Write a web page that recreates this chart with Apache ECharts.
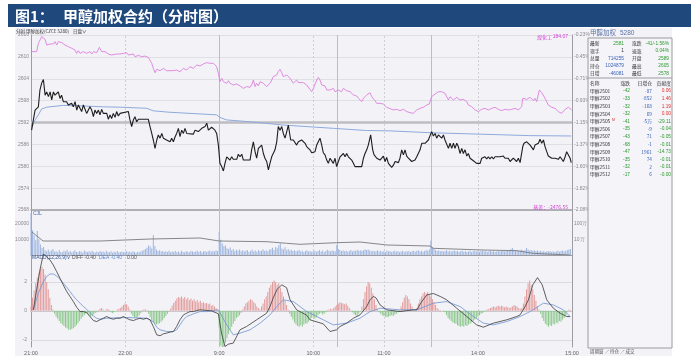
<!DOCTYPE html>
<html><head><meta charset="utf-8">
<script src="https://cdn.jsdelivr.net/npm/echarts@6/dist/echarts.min.js"></script>
<style>
html,body{margin:0;padding:0;background:#fff;}
#bg{position:absolute;left:15px;top:28px;width:657px;height:328px;background:#F2F2F7;}
#c{position:absolute;left:0;top:0;width:691px;height:356px;}
</style></head><body>
<div id="bg"></div><div id="c"></div>
<script>
// ---------- axis labels ----------
const timeTicks=[0,60,120,180,225,285,345];
const timeLabels=['21:00','22:00','9:00','10:00','11:00','14:00','15:00'];
const dashedTimes=[60,180,225,285];
const sessionBreaks=[120,195,255];
const pctLabels=['-2.08%','-1.82%','-1.60%','-1.37%','-1.15%','-0.93%','-0.71%','-0.45%','-0.23%'];
const volTicks=[10000,20000];
const volLeftLabels=['10000','20000'];
const volRightLabels=['10万','100万'];
const macdTicks=[-2,0,2];
const macdLabels=['-2','0','2'];

// ---------- main panel: price (minute, price) ----------
const pricePts=[[0.4,2589.9],[1.5,2592.7],[2.6,2595.4],[3.6,2595.0],[4.7,2596.3],[5.7,2600.9],[6.8,2602.8],[7.9,2603.8],[8.5,2603.8],[9,2599.5],[10,2600.4],[11.1,2599.1],[12.2,2600.4],[13.2,2598.2],[14.3,2600.4],[15.3,2599.5],[16.4,2599.1],[17.4,2600.4],[18.5,2598.6],[19.5,2599.5],[20.6,2597.7],[22.7,2597.7],[23.8,2596.8],[25.9,2597.3],[27,2596.3],[28.1,2597.7],[29.2,2595.4],[30.2,2596.8],[32.3,2595.0],[33.4,2596.8],[34.4,2596.3],[35.5,2594.5],[36.6,2594.1],[37.6,2596.3],[38.7,2595.4],[39.8,2593.6],[40.8,2595.4],[41.9,2594.5],[43,2595.4],[44,2594.1],[45.1,2595.6],[46.1,2594.5],[47.2,2595.0],[48.3,2594.5],[49.3,2592.9],[50.4,2594.1],[51.4,2593.1],[52.5,2594.5],[53.6,2593.4],[54.6,2595.0],[55.7,2593.8],[56.8,2594.5],[57.8,2595.0],[62.1,2595.0],[63.1,2592.7],[64.2,2590.9],[65.3,2592.7],[66.3,2593.6],[67.4,2592.2],[68.5,2592.9],[74.8,2592.9],[75.9,2590.9],[77,2589.0],[78,2587.2],[79.1,2584.9],[80.2,2587.2],[81.2,2588.6],[82.3,2587.7],[83.4,2589.0],[84.4,2587.7],[85.5,2588.1],[86.5,2587.2],[87.6,2587.7],[88.7,2586.7],[89.7,2587.7],[90.8,2586.7],[91.9,2588.1],[92.9,2589.0],[94,2590.4],[95,2588.1],[96.1,2589.9],[97.2,2589.0],[98.2,2590.4],[99.3,2589.0],[100.4,2588.8],[103.5,2588.8],[104.6,2589.9],[105.7,2590.4],[106.7,2589.5],[107.8,2589.0],[108.9,2590.4],[109.9,2589.9],[111,2590.9],[112.1,2591.8],[113.1,2589.9],[114.2,2589.5],[115.2,2590.7],[116.3,2590.4],[117.3,2589.9],[118.4,2589.0],[119.5,2585.8],[120.5,2580.8],[121.6,2579.9],[122.7,2578.7],[123.7,2580.8],[124.8,2582.6],[125.9,2582.6],[126.9,2581.7],[128,2582.6],[129,2581.9],[131.2,2581.9],[132.2,2583.3],[133.3,2582.6],[134.4,2583.3],[135.4,2581.7],[139.7,2581.7],[140.7,2584.5],[141.8,2586.7],[142.9,2584.0],[143.9,2582.2],[145,2584.9],[146.1,2585.4],[147.1,2585.8],[148.2,2583.5],[149.2,2582.2],[150.3,2581.3],[151.4,2579.0],[152.4,2580.8],[153.5,2582.6],[154.5,2582.2],[155.6,2584.5],[156.7,2586.7],[157.7,2590.9],[158.8,2589.9],[159.9,2590.9],[160.9,2589.0],[162,2587.7],[163.1,2589.5],[164.1,2591.3],[164.8,2591.8],[165.6,2587.2],[167.3,2587.2],[169.4,2585.8],[170.5,2586.7],[171.6,2586.3],[172.6,2587.2],[173.7,2587.7],[174.8,2586.3],[175.8,2585.4],[176.9,2585.8],[177.9,2584.5],[179,2583.7],[180.1,2583.7],[181.1,2584.0],[182.2,2585.8],[183.3,2586.3],[184.3,2587.7],[185.4,2585.8],[186.4,2583.7],[187.5,2583.1],[188.6,2581.7],[189.6,2580.8],[190.7,2582.2],[191.8,2582.6],[192.8,2580.8],[193.9,2582.2],[194.9,2579.9],[196,2581.3],[197.1,2582.6],[198.1,2583.1],[199.2,2583.5],[200.3,2582.6],[201.3,2583.5],[202.4,2582.6],[203.5,2583.1],[204.5,2581.7],[205.6,2580.8],[206.6,2579.9],[210.9,2579.9],[212,2582.2],[213,2583.5],[214.1,2584.5],[215.1,2585.8],[216.6,2588.6],[217.9,2584.5],[218.8,2583.1],[219.4,2583.5],[220.5,2582.2],[221.5,2582.6],[222.6,2581.7],[223.6,2582.2],[224.7,2582.8],[225.8,2581.3],[226.8,2582.4],[227.9,2580.8],[230,2579.7],[231.1,2580.3],[232.2,2581.3],[233.2,2580.8],[234.3,2581.0],[235.3,2582.2],[236.4,2584.5],[237.5,2583.1],[238.5,2584.5],[239.6,2582.8],[240.7,2582.2],[241.7,2582.6],[242.8,2581.3],[243.8,2580.8],[244.9,2581.7],[246,2582.6],[247,2583.1],[248.1,2584.5],[249.2,2586.3],[250.2,2586.7],[251.3,2586.3],[252.3,2585.8],[253.4,2587.2],[254.5,2586.7],[255.5,2589.5],[256.6,2588.3],[257.7,2589.0],[258.7,2587.7],[259.8,2588.6],[260.9,2588.1],[261.9,2587.7],[263,2588.6],[264,2587.2],[265.1,2586.7],[266.2,2584.9],[267.2,2586.3],[268.3,2584.9],[269.4,2586.3],[270.4,2584.9],[271.5,2586.3],[272.5,2585.4],[273.6,2583.5],[274.7,2584.9],[275.7,2583.5],[276.8,2584.5],[277.9,2582.8],[278.9,2583.5],[280,2582.2],[281,2582.6],[282.1,2581.5],[283.2,2581.7],[284.2,2580.8],[286.4,2580.8],[287.4,2582.2],[288.5,2582.2],[289.5,2582.6],[290.6,2582.0],[291.7,2582.6],[292.7,2582.0],[293.8,2582.6],[294.9,2582.0],[295.9,2582.6],[297,2582.3],[299.1,2582.6],[301.2,2582.8],[302.3,2582.2],[303.4,2581.7],[304.4,2582.2],[305.5,2581.3],[306.6,2580.8],[307.6,2582.2],[308.7,2582.6],[309.7,2581.3],[310.8,2582.2],[311.9,2581.0],[312.9,2580.8],[313.6,2585.4],[314.4,2586.3],[316.1,2586.7],[317.2,2587.2],[318.3,2585.8],[319.3,2586.3],[320.4,2584.5],[321.4,2585.8],[322.5,2586.3],[323.6,2586.3],[324.6,2587.4],[325.7,2586.3],[326.8,2587.2],[327.8,2585.4],[328.9,2584.0],[329.9,2582.8],[331,2582.6],[332.1,2582.2],[333.1,2582.6],[334.2,2582.2],[335.3,2582.6],[336.3,2581.9],[337.4,2582.6],[338.4,2582.2],[339.5,2581.3],[340.6,2582.6],[341.6,2584.0],[342.7,2584.5],[343.8,2582.2],[344.5,2581]];

const avgPts=[[0.4,2590.5],[2.6,2592.7],[4.7,2594.1],[6.8,2595.7],[10,2596.2],[20.6,2596.7],[35.5,2596.5],[46.1,2596.3],[56.8,2596.2],[73.8,2595.9],[78,2595.2],[88.7,2594.8],[114.2,2594.2],[118.4,2594.1],[120.5,2593.4],[124.8,2592.7],[139.7,2592.2],[160.9,2591.3],[192.8,2590.4],[214.1,2589.8],[229,2589.7],[254.5,2589.2],[286.4,2588.8],[318.3,2588.4],[344.5,2588.3]];

// 煤化工 overlay, % change
const coalPct=[[0.4,-0.414],[3.6,-0.414],[4.7,-0.327],[6.8,-0.257],[9,-0.285],[10,-0.345],[12.1,-0.334],[14.2,-0.334],[15.3,-0.310],[16.4,-0.345],[17.4,-0.310],[19.6,-0.320],[21.7,-0.345],[23.8,-0.362],[26,-0.379],[28.1,-0.397],[29.1,-0.432],[30.2,-0.404],[31.3,-0.432],[33.4,-0.414],[35.5,-0.432],[37.6,-0.414],[38.7,-0.439],[39.8,-0.414],[41.9,-0.425],[43.6,-0.369],[45.1,-0.414],[47.2,-0.414],[49.3,-0.439],[51.4,-0.449],[54.6,-0.439],[56.8,-0.439],[58.9,-0.432],[61,-0.425],[62.1,-0.449],[63.1,-0.46],[65.3,-0.439],[66.3,-0.467],[68.5,-0.453],[70.6,-0.467],[72.7,-0.46],[74.8,-0.474],[77,-0.536],[78,-0.589],[79.1,-0.634],[80.2,-0.599],[82.3,-0.613],[84.4,-0.589],[86.5,-0.613],[90.8,-0.613],[92.9,-0.606],[95,-0.624],[97.2,-0.589],[99.3,-0.606],[101.4,-0.571],[103.5,-0.589],[105.7,-0.554],[107.8,-0.564],[109.9,-0.543],[112,-0.529],[114.2,-0.536],[116.3,-0.536],[118.4,-0.571],[119.5,-0.641],[120.5,-0.728],[121.6,-0.693],[122.7,-0.728],[123.7,-0.711],[124.8,-0.745],[125.9,-0.718],[126.9,-0.745],[128,-0.738],[129,-0.763],[131.2,-0.752],[133.3,-0.773],[135.4,-0.798],[137.5,-0.780],[139.7,-0.787],[140.7,-0.763],[141.8,-0.711],[142.9,-0.780],[143.9,-0.745],[145,-0.773],[146.1,-0.728],[147.1,-0.711],[148.2,-0.745],[149.2,-0.763],[150.3,-0.780],[151.4,-0.763],[152.4,-0.745],[153.5,-0.711],[154.5,-0.676],[155.6,-0.676],[156.7,-0.658],[157.7,-0.623],[158.8,-0.599],[159.9,-0.634],[160.9,-0.676],[162,-0.693],[163.1,-0.658],[164.1,-0.648],[165.2,-0.693],[166.2,-0.711],[167.3,-0.745],[168.4,-0.728],[169.4,-0.711],[170.5,-0.738],[171.6,-0.745],[173.7,-0.738],[174.8,-0.752],[175.8,-0.763],[176.9,-0.780],[177.9,-0.808],[179,-0.833],[180.1,-0.798],[181.1,-0.780],[182.2,-0.711],[183.3,-0.683],[184.3,-0.711],[185.4,-0.763],[186.4,-0.780],[187.5,-0.773],[188.6,-0.815],[189.6,-0.833],[190.7,-0.815],[191.8,-0.833],[192.8,-0.798],[193.9,-0.833],[194.9,-0.822],[196,-0.815],[197.1,-0.808],[198.1,-0.833],[199.2,-0.798],[200.3,-0.815],[201.3,-0.822],[202.4,-0.815],[203.5,-0.833],[204.5,-0.850],[205.6,-0.867],[206.6,-0.885],[207.7,-0.878],[208.8,-0.902],[209.8,-0.920],[210.9,-0.937],[212,-0.902],[213,-0.885],[214.1,-0.867],[215.1,-0.850],[216.2,-0.843],[217.3,-0.885],[218.3,-0.902],[219.4,-0.927],[220.5,-0.955],[221.5,-0.937],[222.6,-0.955],[223.6,-0.948],[224.7,-0.962],[225.8,-0.972],[226.8,-0.996],[229,-1.010],[231.1,-1.024],[233.2,-1.017],[235.3,-1.031],[237.5,-1.017],[239.6,-1.041],[241.7,-1.052],[243.8,-1.059],[246,-1.024],[247,-1.041],[248.1,-1.007],[250.2,-0.996],[252.3,-0.972],[254,-0.962],[255.5,-0.885],[257.7,-0.857],[259.8,-0.833],[261.9,-0.833],[264,-0.850],[266.2,-0.920],[267.2,-0.885],[269.4,-0.920],[271.5,-0.892],[273.6,-0.920],[275.7,-0.913],[277.9,-0.937],[278.9,-0.972],[281,-0.989],[283.2,-1.024],[285.3,-1.041],[287.4,-1.017],[289.5,-1.007],[291.7,-1.024],[293.8,-1.007],[295.9,-0.996],[298,-1.017],[300.2,-1.031],[302.3,-1.017],[304.4,-1.024],[306.6,-1.017],[308.7,-1.007],[310.8,-1.024],[312.9,-0.989],[313.6,-0.902],[316.1,-0.913],[318.3,-0.892],[320.4,-0.927],[321.4,-0.902],[322.5,-0.937],[324.2,-0.815],[325.7,-0.843],[327.8,-0.902],[329.9,-0.972],[332.1,-0.996],[334.2,-1.007],[336.3,-1.041],[337.4,-1.024],[338.4,-1.059],[340.6,-1.017],[342.7,-0.996],[344.8,-1.024]];

// ---------- volume per minute ----------
const volume=[26900,16000,12800,9500,15500,10200,6800,4500,5200,3000,2400,3600,2200,2900,3800,
2100,2600,1800,3300,2000,1700,2800,2300,3400,1900,2500,1600,2200,3100,2000,
1800,2600,2100,1500,2900,2200,1900,2400,1700,2700,2000,1500,2300,1800,2600,
1900,2200,1600,2800,2000,1700,2400,1500,2100,1800,2500,1600,1900,2300,1700,
2000,2600,1800,2200,1600,2400,1900,1500,2100,1700,2300,2700,3200,3800,4600,
6200,5400,4200,12900,5800,3600,2600,3000,2200,2500,1900,2400,2000,2800,1700,
2200,1900,2500,1800,2300,1600,2700,2000,1800,2400,2100,1700,2600,2200,1900,
2300,2800,2000,2500,1800,2200,2600,1900,2400,2900,2100,2700,2300,3000,2500,
14800,9800,7400,5600,6200,4300,3700,4800,3100,3900,2600,3400,2800,3600,2400,
3000,2200,2700,3300,2000,2600,3500,2300,2900,2100,3200,2500,2800,3700,2600,
3000,2400,3400,3900,4600,3300,5200,4400,6300,7500,4200,3600,5000,3100,3800,
2900,3400,2600,3100,2400,2800,3300,2200,2700,2000,2500,3000,2300,2600,2100,
2400,2800,2100,2600,3200,2300,2900,2000,2500,3400,2700,2200,3000,2600,2400,
6400,3800,3200,2600,3000,2400,2800,2100,2600,3200,2300,2900,2500,3400,2700,
3100,2600,3000,3500,3200,3600,2900,2400,2800,2200,2600,3100,2300,2700,2100,
2500,2000,2900,2300,2600,1900,2400,2800,2100,2500,1800,2300,2700,2000,2400,
2200,2600,1900,2400,2800,2100,2500,3000,2300,2700,2100,2600,3200,2800,3500,
9200,5200,3800,3200,2600,3000,2400,2800,2200,2600,3000,2300,2700,2100,2500,
2900,2200,2600,2000,2400,2800,2100,2500,1900,2300,2700,2000,2400,2800,2200,
2600,2100,2500,2900,2200,2600,2000,2400,2800,2100,2500,1900,2300,2700,2200,
2500,2900,2300,2700,3200,2600,3800,4500,3400,2800,3200,2600,3000,3500,2800,
3200,4500,3600,2900,3300,2700,3100,2500,2900,2300,2700,2100,2500,2000,2400,
2200,2600,2000,2400,1900,2300,2700,2100,2500,2900,2300,2800,3200,3600,3800];

// open interest (minute, lots)
const openInterest=[[0.6,1070000],[7.7,1052000],[44,1052000],[76,1056000],[107.8,1058000],[120,1052000],[150.5,1050600],[163,1047400],[171.6,1045400],[195,1048600],[209.8,1050000],[227,1044000],[254.5,1042000],[256.4,1037400],[288.3,1034000],[310,1032600],[320,1027400],[333,1025400],[343.8,1024000]];

// ---------- MACD ----------
const macdHist=[0.3,0.9,1.4,1.9,2.3,2.6,2.9,3.05,2.9,2.5,2.0,1.5,0.9,0.4,0.1,
-0.2,-0.4,-0.55,-0.7,-0.85,-0.95,-1.05,-1.15,-1.2,-1.3,-1.3,-1.25,-1.2,-1.1,-1.0,
-0.85,-0.7,-0.55,-0.4,-0.3,-0.2,-0.15,-0.3,-0.4,-0.35,-0.25,-0.15,-0.1,0.05,0.15,
0.2,0.1,-0.05,0.1,0.15,0.05,-0.1,-0.15,-0.1,0.0,0.1,0.15,0.2,0.3,0.4,
0.5,0.45,0.3,0.1,-0.2,-0.35,-0.45,-0.5,-0.4,-0.3,-0.15,0.05,0.1,0.1,0.05,
-0.2,-0.45,-0.65,-0.8,-0.9,-0.95,-0.9,-0.85,-0.75,-0.65,-0.5,-0.35,-0.2,-0.05,0.15,
0.35,0.55,0.7,0.85,0.95,0.9,1.0,0.85,0.95,0.8,0.9,0.75,0.85,0.7,0.8,
0.65,0.75,0.6,0.7,0.55,0.6,0.5,0.55,0.45,0.5,0.35,0.4,0.3,0.2,0.05,
-1.2,-2.4,-2.7,-2.5,-2.2,-1.9,-1.6,-1.3,-1.1,-0.9,-0.7,-0.5,-0.4,-0.3,-0.15,
0.1,0.3,0.5,0.6,0.7,0.8,0.75,0.6,0.5,0.3,0.2,0.1,0.3,0.5,0.8,
1.0,1.3,1.6,1.8,2.0,2.1,2.0,1.8,1.9,1.6,1.3,1.0,0.7,0.4,0.1,
-0.2,-0.4,-0.6,-0.8,-0.95,-1.05,-1.1,-1.0,-1.1,-0.95,-0.85,-0.9,-0.75,-0.6,-0.5,
-0.4,-0.55,-0.45,-0.3,-0.2,-0.15,-0.25,-0.2,-0.1,0.05,0.1,0.15,0.1,0.2,0.3,
0.4,0.5,0.6,0.55,0.5,0.45,0.5,0.35,0.2,0.05,-0.1,-0.25,-0.3,-0.35,-0.2,
-0.05,0.3,0.8,1.3,1.7,2.0,1.9,1.6,1.2,0.8,0.4,0.1,-0.1,-0.2,-0.3,
-0.35,-0.4,-0.45,-0.4,-0.35,-0.3,-0.35,-0.25,-0.2,-0.1,0.05,0.3,0.6,0.9,1.1,
1.0,0.8,0.5,0.3,0.1,0.05,0.2,0.5,0.8,1.0,1.2,1.3,1.2,1.3,1.1,
1.0,0.8,0.6,0.4,0.2,0.1,0.05,0.0,-0.05,-0.1,-0.3,-0.5,-0.6,-0.7,-0.8,
-0.85,-0.9,-1.0,-1.05,-1.1,-1.05,-1.1,-1.0,-1.05,-0.95,-0.9,-0.8,-0.7,-0.6,-0.5,
-0.4,-0.3,-0.2,-0.15,-0.05,0.05,0.1,0.15,0.2,0.25,0.3,0.25,0.3,0.35,0.3,
0.35,0.3,0.25,0.3,0.25,0.2,0.25,0.3,0.4,0.35,0.3,0.2,0.15,0.2,0.5,
1.0,1.5,1.9,2.1,1.8,1.5,1.1,0.7,0.3,0.1,-0.2,-0.5,-0.7,-0.9,-1.0,
-1.1,-1.0,-1.05,-0.9,-0.95,-0.8,-0.85,-0.7,-0.75,-0.6,-0.5,-0.3,-0.1,0.1,0.05];

const diffPts=[[1.5,0.07],[3.6,1.45],[5.7,2.83],[7.9,3.93],[10,3.75],[12.1,3.52],[14.2,3.17],[16.4,2.71],[18.5,2.25],[20.6,1.79],[22.8,1.33],[24.9,0.99],[27,0.64],[29.1,0.25],[31.3,-0.05],[33.4,-0.05],[35.5,-0.12],[37.6,-0.39],[39.8,-0.67],[41.9,-0.74],[44,-0.62],[46.1,-0.51],[48.3,-0.39],[50.4,-0.51],[52.5,-0.58],[54.6,-0.51],[56.8,-0.51],[58.9,-0.39],[61,-0.51],[63.1,-0.62],[65.3,-0.67],[67.4,-0.58],[69.5,-0.51],[71.6,-0.58],[73.8,-0.51],[75.9,-0.62],[78,-1.08],[80.2,-1.66],[82.3,-1.72],[84.4,-1.59],[86.5,-1.54],[88.7,-1.47],[90.8,-1.43],[92.9,-1.08],[95,-0.62],[97.2,-0.28],[99.3,-0.16],[101.4,-0.05],[103.5,-0.05],[105.7,0.02],[107.8,0.07],[115,0.0],[119.5,-0.2],[121.6,-1.6],[123.7,-2.46],[126,-2.3],[129,-2.23],[133.3,-1.31],[137.5,-1.08],[143.9,-0.62],[150.3,-0.16],[152.4,0.3],[154.5,0.9],[157,1.5],[160,1.8],[163,1.6],[165.2,0.76],[169.4,0.07],[175.8,-0.3],[177.9,-0.62],[186.4,-0.9],[190.7,-1.43],[194.9,-1.31],[197.1,-1.08],[201.3,-0.85],[205.6,-0.51],[209.8,-0.28],[214.1,0.3],[216.2,0.76],[218.3,1.0],[220,0.9],[222.6,0.41],[226.8,0.07],[235.3,-0.05],[243.8,0.07],[246,0.07],[249.2,0.64],[252.4,1.1],[256.6,1.2],[260.9,1.0],[265.1,0.76],[271.5,0.18],[277.9,-0.39],[284.2,-0.97],[288.5,-1.13],[294.9,-0.85],[303.4,-0.62],[309.8,-0.39],[311.9,-0.28],[315.1,0.3],[317.2,0.76],[320,1.8],[323,2.3],[326,1.8],[328.9,0.76],[333.1,0.18],[337.4,-0.16],[341.6,-0.39],[343.8,-0.4]];

const deaPts=[[1.5,0.07],[4.7,1.22],[7.9,2.02],[10,2.37],[12.1,2.55],[14.2,2.55],[16.4,2.41],[18.5,2.18],[20.6,1.91],[22.8,1.63],[24.9,1.33],[27,1.03],[29.1,0.76],[31.3,0.53],[33.4,0.30],[35.5,0.11],[37.6,-0.12],[39.8,-0.35],[41.9,-0.51],[44,-0.58],[48.3,-0.51],[61,-0.46],[73.8,-0.51],[78,-0.74],[80.2,-1.13],[82.3,-1.31],[86.5,-1.43],[90.8,-1.43],[92.9,-1.31],[95,-0.97],[97.2,-0.62],[99.3,-0.39],[103.5,-0.21],[107.8,-0.05],[112,-0.05],[119.5,0.07],[124.8,-0.97],[129,-1.66],[133.3,-1.54],[139.7,-1.31],[146.1,-0.85],[152.4,-0.28],[156.7,0.3],[160.9,0.76],[167.3,0.64],[175.8,-0.05],[186.4,-0.62],[192.8,-0.97],[201.3,-0.85],[209.8,-0.51],[216.2,-0.05],[222.6,0.18],[235.3,0.07],[246,0.07],[256.6,0.53],[265.1,0.64],[273.6,0.3],[282.1,-0.39],[288.5,-0.85],[294.9,-0.97],[303.4,-0.74],[311.9,-0.39],[318.3,-0.05],[326.8,0.53],[333.1,0.41],[339.5,0.07],[343.8,-0.4]];

// ---------- info panel ----------
const panelTitle=['甲醇加权','5280'];
const quoteRows=[['最新','2581','涨跌','-41/-1.56%'],['现手','1','速涨','0.04%'],['总量','714255','开盘','2589'],['持仓','1024879','最高','2605'],['日增','-46081','最低','2578']];
const quoteColors=[['#2E9A2E','#2E9A2E'],['#333','#2E9A2E'],['#3A62B5','#2E9A2E'],['#3A62B5','#2E9A2E'],['#3A62B5','#2E9A2E']];
const tableHead=['名称','涨跌','日增仓','贡献度'];
const contracts=['甲醇2501','甲醇2502','甲醇2503','甲醇2504','甲醇2505','甲醇2506','甲醇2507','甲醇2508','甲醇2509','甲醇2510','甲醇2511','甲醇2512'];
const contractChg=['-42','-33','-32','-32','-41','-35','-43','-68','-47','-35','-32','-17'];
const contractOi=['-87','-852','-168','69','-5万','-9','71','-1','1961','74','2','6'];
const contractContrib=['0.06','1.46','1.19','0.00','-29.11','-0.04','-0.05','-0.01','-14.73','-0.01','-0.01','-0.00'];

// ---------- build ----------
const chart=echarts.init(document.getElementById('c'),null,{renderer:'canvas'});
const FONT='"Liberation Sans","DejaVu Sans",sans-serif';
const CJK='"Noto Sans CJK SC",sans-serif';
const vLines=[...dashedTimes.map(t=>({xAxis:t,lineStyle:{type:[2,2],color:'#C5C5CC',width:0.8}})),
  ...sessionBreaks.map(t=>({xAxis:t,lineStyle:{type:'solid',color:'#BDBDC4',width:1}}))];
const xBase=(gi,showLabel)=>({type:'value',gridIndex:gi,min:0,max:345,interval:15,
  axisLine:{show:true,lineStyle:{color:'#9C9CA2',width:gi===0?1.5:1}},axisTick:{show:false},splitLine:{show:false},
  axisLabel:{show:showLabel,fontSize:5.5,color:'#666',fontFamily:FONT,margin:3,
    formatter:v=>{const i=timeTicks.indexOf(v);return i>=0?timeLabels[i]:'';}}});
const axisTxt={fontSize:5,color:'#8A8A90',fontFamily:FONT};

const graphic=[];
graphic.push({type:'rect',shape:{x:8,y:4,width:683,height:23},style:{fill:'#1F497D'},z:100});
graphic.push({type:'text',x:15,y:16,style:{text:'图1：',fill:'#fff',font:'bold 15px '+CJK,verticalAlign:'middle'},z:101});
graphic.push({type:'text',x:63,y:16,style:{text:'甲醇加权合约（分时图）',fill:'#fff',font:'bold 15px '+CJK,verticalAlign:'middle'},z:101});
graphic.push({type:'text',x:16,y:31,style:{text:'分时 甲醇加权(CZCE 5280)    日盘∨',fill:'#333',font:'4.5px '+CJK,verticalAlign:'middle'},z:101});
graphic.push({type:'text',x:537,y:37,style:{text:'煤化工',fill:'#D63FD6',font:'5px '+CJK,verticalAlign:'middle'},z:101});
graphic.push({type:'text',x:568,y:37,style:{text:'184.07',fill:'#D63FD6',font:'5px '+FONT,align:'right',verticalAlign:'middle'},z:101});
graphic.push({type:'text',x:568,y:207,style:{text:'基差：-2476.55',fill:'#D63FD6',font:'5px '+CJK,align:'right',verticalAlign:'middle'},z:101});
graphic.push({type:'text',x:33,y:213.5,style:{text:'CJL',fill:'#4A6FB5',font:'5px '+FONT,verticalAlign:'middle'},z:101});
graphic.push({type:'text',x:32,y:258,style:{text:'MACD(12,26,9)∨',fill:'#3A5A9A',font:'5px '+FONT,verticalAlign:'middle'},z:101});
graphic.push({type:'text',x:72,y:258,style:{text:'DIFF -0.40',fill:'#555',font:'5px '+FONT,verticalAlign:'middle'},z:101});
graphic.push({type:'text',x:99,y:258,style:{text:'DEA -0.40',fill:'#5B8BD0',font:'5px '+FONT,verticalAlign:'middle'},z:101});
graphic.push({type:'text',x:127,y:258,style:{text:'0.00',fill:'#555',font:'5px '+FONT,verticalAlign:'middle'},z:101});
// info panel
graphic.push({type:'rect',shape:{x:588,y:38,width:84,height:310},style:{fill:'#F5F5F9',stroke:'#9A9AA0',lineWidth:1},z:99});
graphic.push({type:'line',shape:{x1:588,y1:78,x2:672,y2:78},style:{stroke:'#9A9AA0',lineWidth:1},z:100});
graphic.push({type:'text',x:590,y:33,style:{text:panelTitle[0],fill:'#5A74A8',font:'6.5px '+CJK,verticalAlign:'middle'},z:101});
graphic.push({type:'text',x:620,y:33,style:{text:panelTitle[1],fill:'#5A74A8',font:'6.5px '+FONT,verticalAlign:'middle'},z:101});
quoteRows.forEach((r,i)=>{const y=43.3+i*7.5;
  graphic.push({type:'text',x:590,y,style:{text:r[0],fill:'#333',font:'4.8px '+CJK,verticalAlign:'middle'},z:101});
  graphic.push({type:'text',x:624,y,style:{text:r[1],fill:quoteColors[i][0],font:'4.8px '+FONT,align:'right',verticalAlign:'middle'},z:101});
  graphic.push({type:'text',x:632,y,style:{text:r[2],fill:'#333',font:'4.8px '+CJK,verticalAlign:'middle'},z:101});
  graphic.push({type:'text',x:669,y,style:{text:r[3],fill:quoteColors[i][1],font:'4.8px '+FONT,align:'right',verticalAlign:'middle'},z:101});
});
const hy=83.3;
graphic.push({type:'text',x:590,y:hy,style:{text:tableHead[0],fill:'#333',font:'4.8px '+CJK,verticalAlign:'middle'},z:101});
graphic.push({type:'text',x:630,y:hy,style:{text:tableHead[1],fill:'#333',font:'4.8px '+CJK,align:'right',verticalAlign:'middle'},z:101});
graphic.push({type:'text',x:652,y:hy,style:{text:tableHead[2],fill:'#333',font:'4.8px '+CJK,align:'right',verticalAlign:'middle'},z:101});
graphic.push({type:'text',x:671,y:hy,style:{text:tableHead[3],fill:'#333',font:'4.8px '+CJK,align:'right',verticalAlign:'middle'},z:101});
contracts.forEach((n,i)=>{const y=91+i*7.6;
  graphic.push({type:'text',x:590,y,style:{text:n,fill:'#333',font:'4.8px '+CJK,verticalAlign:'middle'},z:101});
  if(n==='甲醇2505')graphic.push({type:'text',x:612,y:y-1.5,style:{text:'M',fill:'#E03030',font:'3.5px '+FONT,verticalAlign:'middle'},z:101});
  graphic.push({type:'text',x:630,y,style:{text:contractChg[i],fill:'#2E9A2E',font:'4.8px '+FONT,align:'right',verticalAlign:'middle'},z:101});
  graphic.push({type:'text',x:652,y,style:{text:contractOi[i],fill:'#3A62B5',font:'4.8px '+CJK,align:'right',verticalAlign:'middle'},z:101});
  const c=contractContrib[i];
  graphic.push({type:'text',x:671,y,style:{text:c,fill:c.startsWith('-')?'#2E9A2E':'#E03030',font:'4.8px '+FONT,align:'right',verticalAlign:'middle'},z:101});
});
graphic.push({type:'text',x:590,y:351,style:{text:'周期窗 ∕ 持仓 ∕ 成交',fill:'#555',font:'4.5px '+CJK,verticalAlign:'middle'},z:101});

const option={
  animation:false,
  backgroundColor:'transparent',
  grid:[
    {left:31,right:119,top:35,height:175},
    {left:31,right:119,top:210,height:45},
    {left:31,right:119,top:253,height:94.25}
  ],
  xAxis:[xBase(0,false),xBase(1,false),xBase(2,true)],
  yAxis:[
    {type:'value',gridIndex:0,min:2568,max:2616,interval:6,position:'left',
      axisLine:{show:true,lineStyle:{color:'#9C9CA2'}},axisTick:{show:false},
      axisLabel:Object.assign({margin:2,formatter:v=>String(v)},axisTxt),
      splitLine:{show:true,lineStyle:{color:'#D9D9DF',width:0.8}}},
    {type:'value',gridIndex:0,min:2568,max:2616,interval:6,position:'right',
      axisLine:{show:true,lineStyle:{color:'#9C9CA2'}},axisTick:{show:false},splitLine:{show:false},
      axisLabel:Object.assign({margin:2,formatter:v=>pctLabels[Math.round((v-2568)/6)]||''},axisTxt)},
    {type:'value',gridIndex:0,min:-2.07,max:-0.24,show:false},
    {type:'value',gridIndex:1,min:0,max:29000,interval:10000,position:'left',
      axisLine:{show:true,lineStyle:{color:'#9C9CA2'}},axisTick:{show:false},splitLine:{show:false},
      axisLabel:Object.assign({margin:2,showMaxLabel:false,formatter:v=>{const i=volTicks.indexOf(v);return i>=0?volLeftLabels[i]:'';}},axisTxt)},
    {type:'value',gridIndex:1,min:0,max:29000,interval:10000,position:'right',
      axisLine:{show:true,lineStyle:{color:'#9C9CA2'}},axisTick:{show:false},splitLine:{show:false},
      axisLabel:Object.assign({margin:2,showMaxLabel:false,formatter:v=>{const i=volTicks.indexOf(v);return i>=0?volRightLabels[i]:'';}},axisTxt)},
    {type:'value',gridIndex:1,min:1024000,max:1114000,show:false},
    {type:'value',gridIndex:2,min:-2.5,max:4,interval:0.5,position:'left',
      axisLine:{show:true,lineStyle:{color:'#9C9CA2'}},axisTick:{show:false},splitLine:{show:false},
      axisLabel:Object.assign({margin:4,showMaxLabel:false,formatter:v=>{const i=macdTicks.indexOf(v);return i>=0?macdLabels[i]:'';}},axisTxt)},
    {type:'value',gridIndex:2,min:-2.5,max:4,position:'right',
      axisLine:{show:true,lineStyle:{color:'#9C9CA2'}},axisTick:{show:false},splitLine:{show:false},axisLabel:{show:false}}
  ],
  series:[
    {type:'line',xAxisIndex:0,yAxisIndex:2,data:coalPct,symbol:'none',lineStyle:{color:'#DE80DE',width:0.9},z:3},
    {type:'line',xAxisIndex:0,yAxisIndex:0,data:avgPts,symbol:'none',lineStyle:{color:'#8EA9DC',width:1},z:3},
    {type:'line',xAxisIndex:0,yAxisIndex:0,data:pricePts,symbol:'none',lineStyle:{color:'#1E1E1E',width:1.1},z:4,
      markLine:{silent:true,symbol:'none',label:{show:false},z:1,
        data:[...vLines,{yAxis:2592,lineStyle:{color:'#BEBEC2',width:2.5,type:'solid'}}]}},
    {type:'bar',xAxisIndex:1,yAxisIndex:3,data:volume.map((v,i)=>[i,v]),barWidth:1,itemStyle:{color:'#9DB5DF'},z:3,
      markLine:{silent:true,symbol:'none',label:{show:false},z:1,data:vLines}},
    {type:'line',xAxisIndex:1,yAxisIndex:5,data:openInterest,symbol:'none',lineStyle:{color:'#7A7A7E',width:0.9},z:4},
    {type:'bar',xAxisIndex:2,yAxisIndex:6,data:macdHist.map((v,i)=>[i,v]),barWidth:1,z:3,
      itemStyle:{color:p=>p.value[1]>=0?'#E39B9B':'#8CC78C'},
      markLine:{silent:true,symbol:'none',label:{show:false},z:1,
        data:[...vLines,...macdTicks.map(t=>({yAxis:t,lineStyle:{color:'#D4D4DA',width:0.8,type:'solid'}}))]}},
    {type:'line',xAxisIndex:2,yAxisIndex:6,data:deaPts,symbol:'none',lineStyle:{color:'#6F93D0',width:0.8},z:4},
    {type:'line',xAxisIndex:2,yAxisIndex:6,data:diffPts,symbol:'none',lineStyle:{color:'#3A3A3A',width:0.8},z:5}
  ],
  graphic:{elements:graphic}
};
chart.setOption(option);
</script></body></html>
